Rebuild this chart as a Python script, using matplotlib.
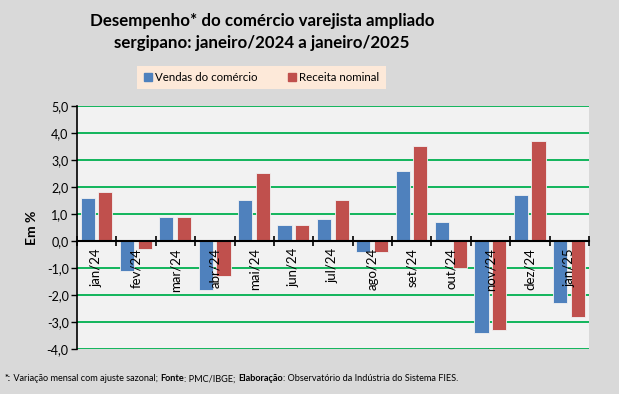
import matplotlib.pyplot as plt
from matplotlib.patches import Patch
import numpy as np

# data
months = ["jan/24", "fev/24", "mar/24", "abr/24", "mai/24", "jun/24", "jul/24",
          "ago/24", "set/24", "out/24", "nov/24", "dez/24", "jan/25"]
vendas = [1.6, -1.1, 0.9, -1.8, 1.5, 0.6, 0.8, -0.4, 2.6, 0.7, -3.4, 1.7, -2.3]
receita = [1.8, -0.3, 0.9, -1.3, 2.5, 0.6, 1.5, -0.4, 3.5, -1.0, -3.3, 3.7, -2.8]
yticks = [-4, -3, -2, -1, 0, 1, 2, 3, 4, 5]

BLUE = '#4F81BD'
RED = '#C0504D'

plt.rcParams['font.family'] = ['Lato', 'DejaVu Sans']

fig = plt.figure(figsize=(6.19, 3.94), dpi=100)
fig.patch.set_facecolor('#D9D9D9')
ax = fig.add_axes([0.1244, 0.1142, 0.827, 0.617])
ax.set_facecolor('#F2F2F2')

x = np.arange(len(months))
w = 0.36
ax.bar(x - 0.23, vendas, w, color=BLUE, edgecolor='#F2F2F2', linewidth=0.6, zorder=3)
ax.bar(x + 0.22, receita, w, color=RED, edgecolor='#F2F2F2', linewidth=0.6, zorder=3)

ax.set_xlim(-0.5, len(months) - 0.5)
ax.set_ylim(-4, 5)
ax.set_yticks(yticks)
ax.set_yticklabels([f"{v:.1f}".replace('.', ',') for v in yticks], fontsize=9)
ax.yaxis.grid(True, color='#00B050', linewidth=1.3, zorder=1)
ax.set_axisbelow(True)

for s in ['top', 'right']:
    ax.spines[s].set_visible(False)
ax.spines['left'].set_linewidth(1.2)
ax.spines['bottom'].set_position(('data', 0))
ax.spines['bottom'].set_linewidth(1.5)
ax.spines['bottom'].set_zorder(4)
ax.tick_params(axis='y', length=4, width=1, pad=2)

# category boundary ticks crossing the zero line
ax.set_xticks(np.arange(len(months) + 1) - 0.5)
ax.set_xticklabels([])
ax.tick_params(axis='x', direction='inout', length=7, width=1.2)

for i, m in enumerate(months):
    ax.annotate(m, xy=(i, 0), xytext=(0, -5), textcoords='offset points',
                rotation=90, ha='center', va='top', fontsize=9.5, zorder=5)

ax.set_ylabel("Em %", fontsize=10, fontweight='bold', labelpad=6)

fig.text(0.423, 0.918, "Desempenho* do comércio varejista ampliado\nsergipano: janeiro/2024 a janeiro/2025",
         ha='center', va='center', fontsize=12.2, fontweight='bold', linespacing=1.45)

handles = [Patch(color=BLUE, label="Vendas do comércio"),
           Patch(color=RED, label="Receita nominal")]
leg = fig.legend(handles=handles, loc='center', bbox_to_anchor=(0.4225, 0.803), ncol=2,
                 fontsize=8.3, frameon=True, fancybox=False, handlelength=0.7, handleheight=0.7,
                 handletextpad=0.3, columnspacing=2.6, borderpad=0.55, borderaxespad=0)
leg.get_frame().set_facecolor('#FDE9D9')
leg.get_frame().set_edgecolor('none')
leg.get_frame().set_alpha(1)

# footnote with bold parts, chained one after another
parts = [("*:", 'bold'), (" Variação mensal com ajuste sazonal; ", 'normal'), ("Fonte", 'bold'),
         (": PMC/IBGE; ", 'normal'), ("Elaboração", 'bold'),
         (": Observatório da Indústria do Sistema FIES.", 'normal')]
prev = fig.text(0.008, 0.027, parts[0][0], fontsize=6.6, fontweight=parts[0][1], va='bottom')
for s, wgt in parts[1:]:
    prev = ax.annotate(s, xy=(1, 0), xycoords=prev, fontsize=6.6, fontweight=wgt,
                       va='bottom', ha='left', annotation_clip=False)

fig.savefig('out.png', dpi=100, facecolor=fig.get_facecolor())
